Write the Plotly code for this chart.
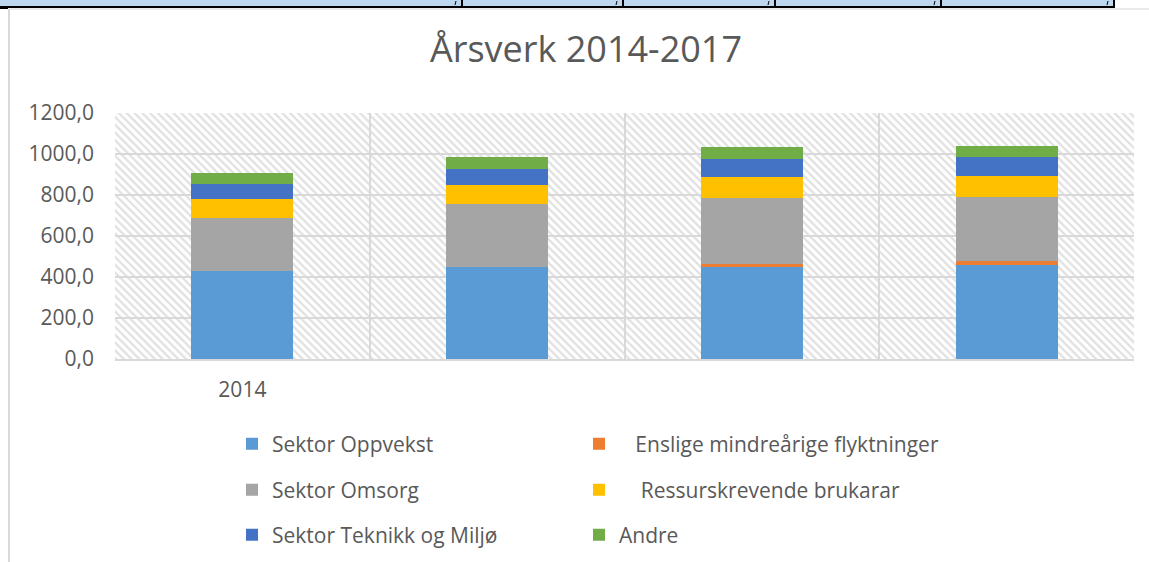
import base64
import plotly.graph_objects as go

# ---- data ----
years = ["2014", "2015", "2016", "2017"]
year_labels = ["2014", "", "", ""]
oppvekst = [428, 447, 448, 458]
enslige = [0, 0, 16, 18]
omsorg = [261, 307, 319, 314]
ressurs = [90, 93, 105, 104]
teknikk = [73, 80, 87, 91]
andre = [55, 58, 59, 55]

series = [
    ("Sektor Oppvekst", oppvekst, "#5B9BD5", "legend", 302),
    ("\u00a0\u00a0\u00a0Enslige mindreårige flyktninger", enslige, "#ED7D31", "legend", 340),
    ("Sektor Omsorg", omsorg, "#A5A5A5", "legend2", 302),
    ("\u00a0\u00a0\u00a0\u00a0Ressurskrevende brukarar", ressurs, "#FFC000", "legend2", 340),
    ("Sektor Teknikk og Miljø", teknikk, "#4472C4", "legend3", 302),
    ("Andre", andre, "#70AD47", "legend3", 340),
]

W, H = 1149, 562
L, R, T, B = 115, 15, 113, 203
PW, PH = W - L - R, H - T - B
TXT = "#595959"
FONT = "Open Sans"


def px(x):
    return (x - L) / PW


def py(y):
    return (H - B - y) / PH


fig = go.Figure()
for name, vals, col, lg, lw in series:
    fig.add_trace(go.Bar(x=years, y=vals, name=name, marker_color=col,
                         marker_line_width=0, legend=lg, legendwidth=lw))

# hatched plot background
svg = (f'<svg xmlns="http://www.w3.org/2000/svg" width="{PW}" height="{PH}">'
       '<defs><pattern id="h" patternUnits="userSpaceOnUse" width="5.5" height="5.5" '
       'patternTransform="rotate(-45)"><rect width="5.5" height="5.5" fill="white"/>'
       '<line x1="2.75" y1="-1" x2="2.75" y2="7" stroke="#E0E0E0" stroke-width="2.2"/>'
       '</pattern></defs><rect width="100%" height="100%" fill="url(#h)"/></svg>')
src = "data:image/svg+xml;base64," + base64.b64encode(svg.encode()).decode()

shapes = []
# top table strip
shapes.append(dict(type="rect", xref="paper", yref="paper", x0=px(0), x1=px(1114),
                   y0=py(0), y1=py(7), fillcolor="#BDD7EE", line_width=0, layer="above"))
shapes.append(dict(type="line", xref="paper", yref="paper", x0=px(0), x1=px(1115),
                   y0=py(7), y1=py(7), line=dict(color="black", width=2)))
shapes.append(dict(type="rect", xref="paper", yref="paper", x0=px(0), x1=px(8),
                   y0=py(6), y1=py(9), fillcolor="black", line_width=0))
for xd in [462, 623, 775, 941, 1114]:
    shapes.append(dict(type="line", xref="paper", yref="paper", x0=px(xd), x1=px(xd),
                       y0=py(0), y1=py(7), line=dict(color="black", width=2)))
    shapes.append(dict(type="line", xref="paper", yref="paper", x0=px(xd - 6), x1=px(xd - 7),
                       y0=py(1), y1=py(5), line=dict(color="black", width=1)))
# chart frame
shapes.append(dict(type="line", xref="paper", yref="paper", x0=px(9), x1=px(W),
                   y0=py(9), y1=py(9), line=dict(color="#E3E3E3", width=1.5)))
shapes.append(dict(type="line", xref="paper", yref="paper", x0=px(9), x1=px(9),
                   y0=py(9), y1=py(H), line=dict(color="#D9D9D9", width=2)))

legend_common = dict(orientation="h", xanchor="left", yanchor="middle",
                     traceorder="normal",
                     font=dict(family=FONT, size=21, color=TXT),
                     bgcolor="rgba(0,0,0,0)")
lx = px(232)

fig.update_layout(
    width=W, height=H,
    margin=dict(l=L, r=R, t=T, b=B, autoexpand=False),
    paper_bgcolor="white", plot_bgcolor="white",
    barmode="stack", bargap=0.6,
    separators=", ",
    title=dict(text="Årsverk 2014-2017", x=0.51, xanchor="center", y=1 - 49 / H,
               yanchor="middle", font=dict(family=FONT, size=36, color=TXT)),
    xaxis=dict(type="category", tickvals=years, ticktext=year_labels,
               tickson="boundaries", showgrid=True, gridcolor="#D9D9D9", gridwidth=1.5,
               showline=True, linecolor="#D9D9D9", linewidth=1.5, ticks="",
               ticklabelstandoff=11,
               tickfont=dict(family=FONT, size=21, color=TXT)),
    yaxis=dict(range=[0, 1200], dtick=200, tickformat=".1f", showgrid=True,
               gridcolor="#D9D9D9", gridwidth=1.5, zeroline=False, ticks="",
               ticklabelstandoff=20,
               tickfont=dict(family=FONT, size=21, color=TXT)),
    legend=dict(x=lx, y=py(444), **legend_common),
    legend2=dict(x=lx, y=py(490), **legend_common),
    legend3=dict(x=lx, y=py(535), **legend_common),
    images=[dict(source=src, xref="x domain", yref="y domain", x=0, y=1,
                 sizex=1, sizey=1, xanchor="left", yanchor="top",
                 sizing="stretch", layer="below")],
    shapes=shapes,
    showlegend=True,
)

fig.write_html("out.html", config={"displayModeBar": False},
               post_script="document.body.style.margin='0px';")
